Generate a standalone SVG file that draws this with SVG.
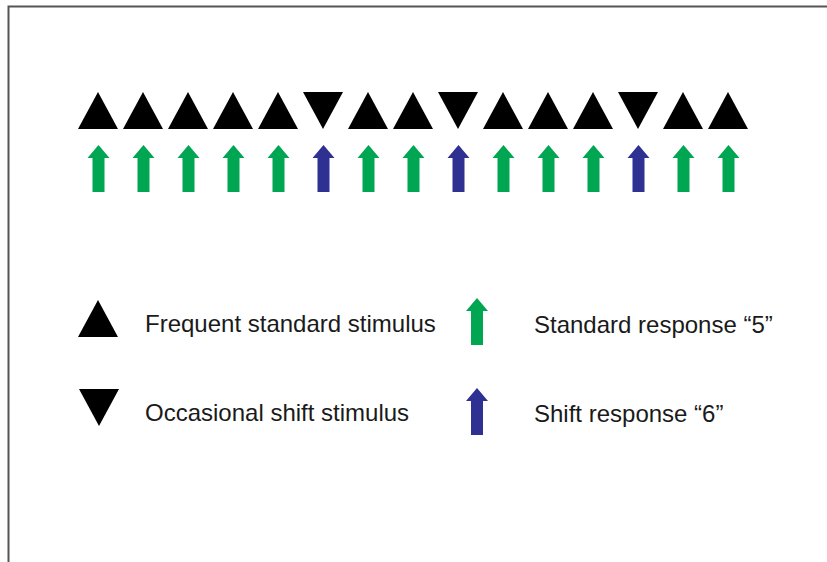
<svg xmlns="http://www.w3.org/2000/svg" xmlns:xlink="http://www.w3.org/1999/xlink" width="827" height="562" viewBox="0 0 827 562">
<style>
.lbl{font-family:"Liberation Sans",Arial,sans-serif;font-size:24px;fill:#1a1a1a}
.tri{fill:#000}
.grn{fill:#00a651}
.blu{fill:#2e3192}
</style>
<defs>
<polygon id="up" class="tri" points="-20,18.5 0,-18.5 20,18.5"/>
<polygon id="down" class="tri" points="-20,-18.5 20,-18.5 0,18.5"/>
<polygon id="arr" points="0,0 11,13 6,13 6,47 -6,47 -6,13 -11,13"/>
</defs>
<rect x="8.5" y="6.5" width="830" height="570" fill="#fff" stroke="#555" stroke-width="2"/>
<g id="sequence">
<g id="s1"><use xlink:href="#up" x="98" y="110.5"/><use xlink:href="#arr" class="grn" x="98.5" y="145"/></g>
<g id="s2"><use xlink:href="#up" x="143" y="110.5"/><use xlink:href="#arr" class="grn" x="143.5" y="145"/></g>
<g id="s3"><use xlink:href="#up" x="188" y="110.5"/><use xlink:href="#arr" class="grn" x="188.5" y="145"/></g>
<g id="s4"><use xlink:href="#up" x="233" y="110.5"/><use xlink:href="#arr" class="grn" x="233.5" y="145"/></g>
<g id="s5"><use xlink:href="#up" x="278" y="110.5"/><use xlink:href="#arr" class="grn" x="278.5" y="145"/></g>
<g id="s6"><use xlink:href="#down" x="323" y="110.5"/><use xlink:href="#arr" class="blu" x="323.5" y="145"/></g>
<g id="s7"><use xlink:href="#up" x="368" y="110.5"/><use xlink:href="#arr" class="grn" x="368.5" y="145"/></g>
<g id="s8"><use xlink:href="#up" x="413" y="110.5"/><use xlink:href="#arr" class="grn" x="413.5" y="145"/></g>
<g id="s9"><use xlink:href="#down" x="458" y="110.5"/><use xlink:href="#arr" class="blu" x="458.5" y="145"/></g>
<g id="s10"><use xlink:href="#up" x="503" y="110.5"/><use xlink:href="#arr" class="grn" x="503.5" y="145"/></g>
<g id="s11"><use xlink:href="#up" x="548" y="110.5"/><use xlink:href="#arr" class="grn" x="548.5" y="145"/></g>
<g id="s12"><use xlink:href="#up" x="593" y="110.5"/><use xlink:href="#arr" class="grn" x="593.5" y="145"/></g>
<g id="s13"><use xlink:href="#down" x="638" y="110.5"/><use xlink:href="#arr" class="blu" x="638.5" y="145"/></g>
<g id="s14"><use xlink:href="#up" x="683" y="110.5"/><use xlink:href="#arr" class="grn" x="683.5" y="145"/></g>
<g id="s15"><use xlink:href="#up" x="728" y="110.5"/><use xlink:href="#arr" class="grn" x="728.5" y="145"/></g>
</g>
<g id="legend-standard-stimulus"><use xlink:href="#up" x="98" y="318.5"/><text class="lbl" x="145" y="332">Frequent standard stimulus</text></g>
<g id="legend-shift-stimulus"><use xlink:href="#down" x="99" y="407.5"/><text class="lbl" x="145" y="421">Occasional shift stimulus</text></g>
<g id="legend-standard-response"><use xlink:href="#arr" class="grn" x="477" y="298"/><text class="lbl" x="534" y="333">Standard response “5”</text></g>
<g id="legend-shift-response"><use xlink:href="#arr" class="blu" x="477" y="388"/><text class="lbl" x="534" y="422">Shift response “6”</text></g>
</svg>
